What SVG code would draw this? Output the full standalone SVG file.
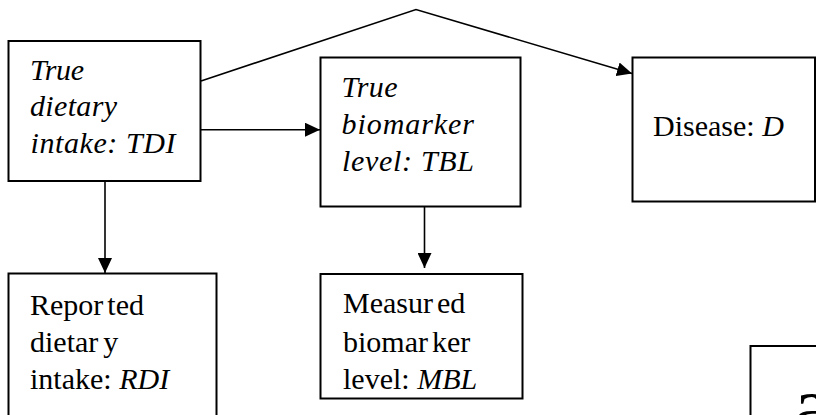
<svg xmlns="http://www.w3.org/2000/svg" width="816" height="415" viewBox="0 0 816 415">
<style>
svg text, svg tspan { font-family: 'Liberation Serif', serif !important; }
.box { fill: #fff; stroke: #000; stroke-width: 2; }
.c { fill: none; stroke: #000; stroke-width: 1.6; }
</style>
<defs>
<marker id="ah" markerUnits="userSpaceOnUse" markerWidth="16" markerHeight="14" refX="15" refY="7" orient="auto" viewBox="0 0 16 14">
<path d="M0,0 L15,7 L0,14 Z" fill="#000"/>
</marker>
</defs>
<rect width="816" height="415" fill="#fff"/>
<g id="connectors">
<polyline class="c" points="201,81 416,9.5 632,73.5" marker-end="url(#ah)"/>
<line class="c" x1="201" y1="129.7" x2="320" y2="129.7" marker-end="url(#ah)"/>
<line class="c" x1="105" y1="181" x2="105" y2="273" marker-end="url(#ah)"/>
<line class="c" x1="424.5" y1="207" x2="424.5" y2="268" marker-end="url(#ah)"/>
</g>
<g id="TDI">
<rect class="box" x="8.5" y="41" width="192" height="140"/>
<text style="font-family:'Liberation Serif',serif;font-size:30px;font-style:italic" x="30" y="79.5" textLength="54" lengthAdjust="spacing">True</text>
<text style="font-family:'Liberation Serif',serif;font-size:30px;font-style:italic" x="30" y="116" textLength="87" lengthAdjust="spacing">dietary</text>
<text style="font-family:'Liberation Serif',serif;font-size:30px;font-style:italic" x="30.5" y="152.7" textLength="145" lengthAdjust="spacing">intake: TDI</text>
</g>
<g id="TBL">
<rect class="box" x="320.5" y="57.5" width="200" height="149"/>
<text style="font-family:'Liberation Serif',serif;font-size:30px;font-style:italic" x="341.5" y="96.7" textLength="56" lengthAdjust="spacing">True</text>
<text style="font-family:'Liberation Serif',serif;font-size:30px;font-style:italic" x="341.5" y="134" textLength="132.5" lengthAdjust="spacing">biomarker</text>
<text style="font-family:'Liberation Serif',serif;font-size:30px;font-style:italic" x="342" y="171" textLength="132" lengthAdjust="spacing">level: TBL</text>
</g>
<g id="D">
<rect class="box" x="632.5" y="57.5" width="182.5" height="144"/>
<text style="font-family:'Liberation Serif',serif;font-size:30px" x="653" y="136">Disease: <tspan style="font-style:italic">D</tspan></text>
</g>
<g id="RDI">
<rect class="box" x="8.5" y="273.5" width="208" height="160"/>
<text style="font-family:'Liberation Serif',serif;font-size:30px" x="30" y="315">Repor<tspan dx="4">ted</tspan></text>
<text style="font-family:'Liberation Serif',serif;font-size:30px" x="30" y="352">dietar<tspan dx="5">y</tspan></text>
<text style="font-family:'Liberation Serif',serif;font-size:30px" x="30" y="389">intake: <tspan style="font-style:italic">RDI</tspan></text>
</g>
<g id="MBL">
<rect class="box" x="320.5" y="274" width="202" height="124.5"/>
<text style="font-family:'Liberation Serif',serif;font-size:30px" x="343" y="313.3">Measur<tspan dx="4">ed</tspan></text>
<text style="font-family:'Liberation Serif',serif;font-size:30px" x="343" y="351.7">biomar<tspan dx="4">ker</tspan></text>
<text style="font-family:'Liberation Serif',serif;font-size:30px" x="343" y="389">level: <tspan style="font-style:italic">MBL</tspan></text>
</g>
<g id="extra">
<rect class="box" x="750.5" y="346" width="100" height="100"/>
<text style="font-family:'Liberation Serif',serif;font-size:80px" x="794" y="432">a</text>
</g>
</svg>
